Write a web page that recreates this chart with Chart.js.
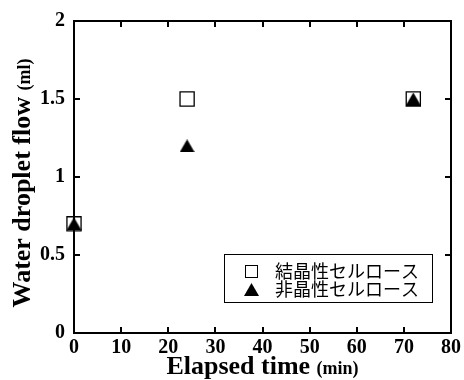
<!DOCTYPE html>
<html>
<head>
<meta charset="utf-8">
<script src="https://cdn.jsdelivr.net/npm/chart.js@4"></script>
<style>
  html, body { margin: 0; padding: 0; background: #fff; }
  canvas { display: block; }
</style>
</head>
<body>
<canvas id="chart" width="464" height="380"></canvas>
<script>
// data
const crystalX = [0, 24, 72];
const crystalY = [0.7, 1.5, 1.5];
const amorphX = [0, 24, 72];
const amorphY = [0.7, 1.2, 1.5];
const seriesNames = ['結晶性セルロース', '非晶性セルロース'];
const xTicks = [0, 10, 20, 30, 40, 50, 60, 70, 80];
const yTicks = [0, 0.5, 1, 1.5, 2];
const yTickLabels = ['0', '0.5', '1', '1.5', '2'];

const serif = "'Liberation Serif', 'Times New Roman', serif";
const cjk = "'Noto Sans CJK JP', 'Noto Sans', sans-serif";

const toPoints = (xs, ys) => xs.map((x, i) => ({ x, y: ys[i] }));

// filled triangle centred on its box (chart.js' own triangle sits high)
const makeTriangle = (w, h) => {
    const c = document.createElement('canvas');
    c.width = w; c.height = h;
    const g = c.getContext('2d');
    g.fillStyle = '#000';
    g.beginPath();
    g.moveTo(w / 2, 0);
    g.lineTo(w, h);
    g.lineTo(0, h);
    g.closePath();
    g.fill();
    return c;
};
const triangleMarker = makeTriangle(15, 13);

// frame with inward ticks on all four sides
const framePlugin = {
    id: 'frame',
    afterDatasetsDraw(chart) {
        const { ctx, chartArea: a, scales } = chart;
        const len = 6;
        ctx.save();
        ctx.strokeStyle = '#000';
        ctx.lineWidth = 2;
        ctx.strokeRect(a.left, a.top, a.right - a.left, a.bottom - a.top);
        ctx.beginPath();
        xTicks.forEach(v => {
            const px = Math.round(scales.x.getPixelForValue(v));
            ctx.moveTo(px, a.bottom); ctx.lineTo(px, a.bottom - len);
            ctx.moveTo(px, a.top); ctx.lineTo(px, a.top + len);
        });
        yTicks.forEach(v => {
            const py = Math.round(scales.y.getPixelForValue(v));
            ctx.moveTo(a.left, py); ctx.lineTo(a.left + len, py);
            ctx.moveTo(a.right, py); ctx.lineTo(a.right - len, py);
        });
        ctx.stroke();
        ctx.restore();
    }
};

// axis titles with the smaller unit part
const titlePlugin = {
    id: 'titles',
    afterDraw(chart) {
        const { ctx, chartArea: a } = chart;
        ctx.save();
        ctx.fillStyle = '#000';
        ctx.textBaseline = 'alphabetic';

        const drawMixed = (main, unit, cx, cy) => {
            ctx.font = `bold 26px ${serif}`;
            const w1 = ctx.measureText(main + ' ').width;
            ctx.font = `bold 18px ${serif}`;
            const w2 = ctx.measureText(unit).width;
            let x = cx - (w1 + w2) / 2;
            ctx.font = `bold 26px ${serif}`;
            ctx.fillText(main + ' ', x, cy);
            ctx.font = `bold 18px ${serif}`;
            ctx.fillText(unit, x + w1, cy);
        };

        drawMixed('Elapsed time', '(min)', (a.left + a.right) / 2, 374);

        ctx.translate(30, 183);
        ctx.rotate(-Math.PI / 2);
        drawMixed('Water droplet flow', '(ml)', 0, 0);
        ctx.restore();
    }
};

// boxed legend inside the plot
const legendPlugin = {
    id: 'boxLegend',
    afterDraw(chart) {
        const { ctx } = chart;
        ctx.save();
        ctx.strokeStyle = '#000';
        ctx.lineWidth = 1;
        ctx.strokeRect(224.5, 254.5, 208, 48);
        ctx.font = `18px ${cjk}`;
        ctx.fillStyle = '#000';
        ctx.textBaseline = 'middle';
        // square marker
        ctx.strokeRect(245.5, 265.5, 12, 12);
        ctx.fillText(seriesNames[0], 275, 271);
        // triangle marker
        ctx.drawImage(triangleMarker, 244, 283);
        ctx.fillText(seriesNames[1], 275, 289);
        ctx.restore();
    }
};

new Chart(document.getElementById('chart'), {
    type: 'scatter',
    data: {
        datasets: [
            {
                label: seriesNames[0],
                data: toPoints(crystalX, crystalY),
                pointStyle: 'rect',
                pointRadius: 10,
                pointHoverRadius: 10,
                backgroundColor: '#fff',
                borderColor: '#000',
                borderWidth: 1.3,
                clip: false,
                order: 2
            },
            {
                label: seriesNames[1],
                data: toPoints(amorphX, amorphY),
                pointStyle: triangleMarker,
                pointRadius: 8,
                pointHoverRadius: 8,
                backgroundColor: '#000',
                borderColor: '#000',
                clip: false,
                order: 1
            }
        ]
    },
    options: {
        responsive: false,
        animation: false,
        devicePixelRatio: 1,
        layout: { padding: { left: 0, top: 20, right: 11, bottom: 0 } },
        plugins: {
            legend: { display: false },
            tooltip: { enabled: false }
        },
        scales: {
            x: {
                type: 'linear',
                min: 0,
                max: 80,
                afterBuildTicks: s => { s.ticks = xTicks.map(v => ({ value: v })); },
                afterFit: s => { s.height = 47; },
                grid: { display: false, drawTicks: false },
                border: { display: false },
                ticks: {
                    color: '#000',
                    padding: 3,
                    maxRotation: 0,
                    autoSkip: false,
                    font: { family: serif, size: 20, weight: 'bold' }
                }
            },
            y: {
                type: 'linear',
                min: 0,
                max: 2,
                afterBuildTicks: s => { s.ticks = yTicks.map(v => ({ value: v })); },
                afterFit: s => { s.width = 74; },
                grid: { display: false, drawTicks: false },
                border: { display: false },
                ticks: {
                    color: '#000',
                    padding: 9,
                    autoSkip: false,
                    callback: v => yTickLabels[yTicks.indexOf(v)],
                    font: { family: serif, size: 20, weight: 'bold' }
                }
            }
        }
    },
    plugins: [framePlugin, titlePlugin, legendPlugin]
});
</script>
</body>
</html>
